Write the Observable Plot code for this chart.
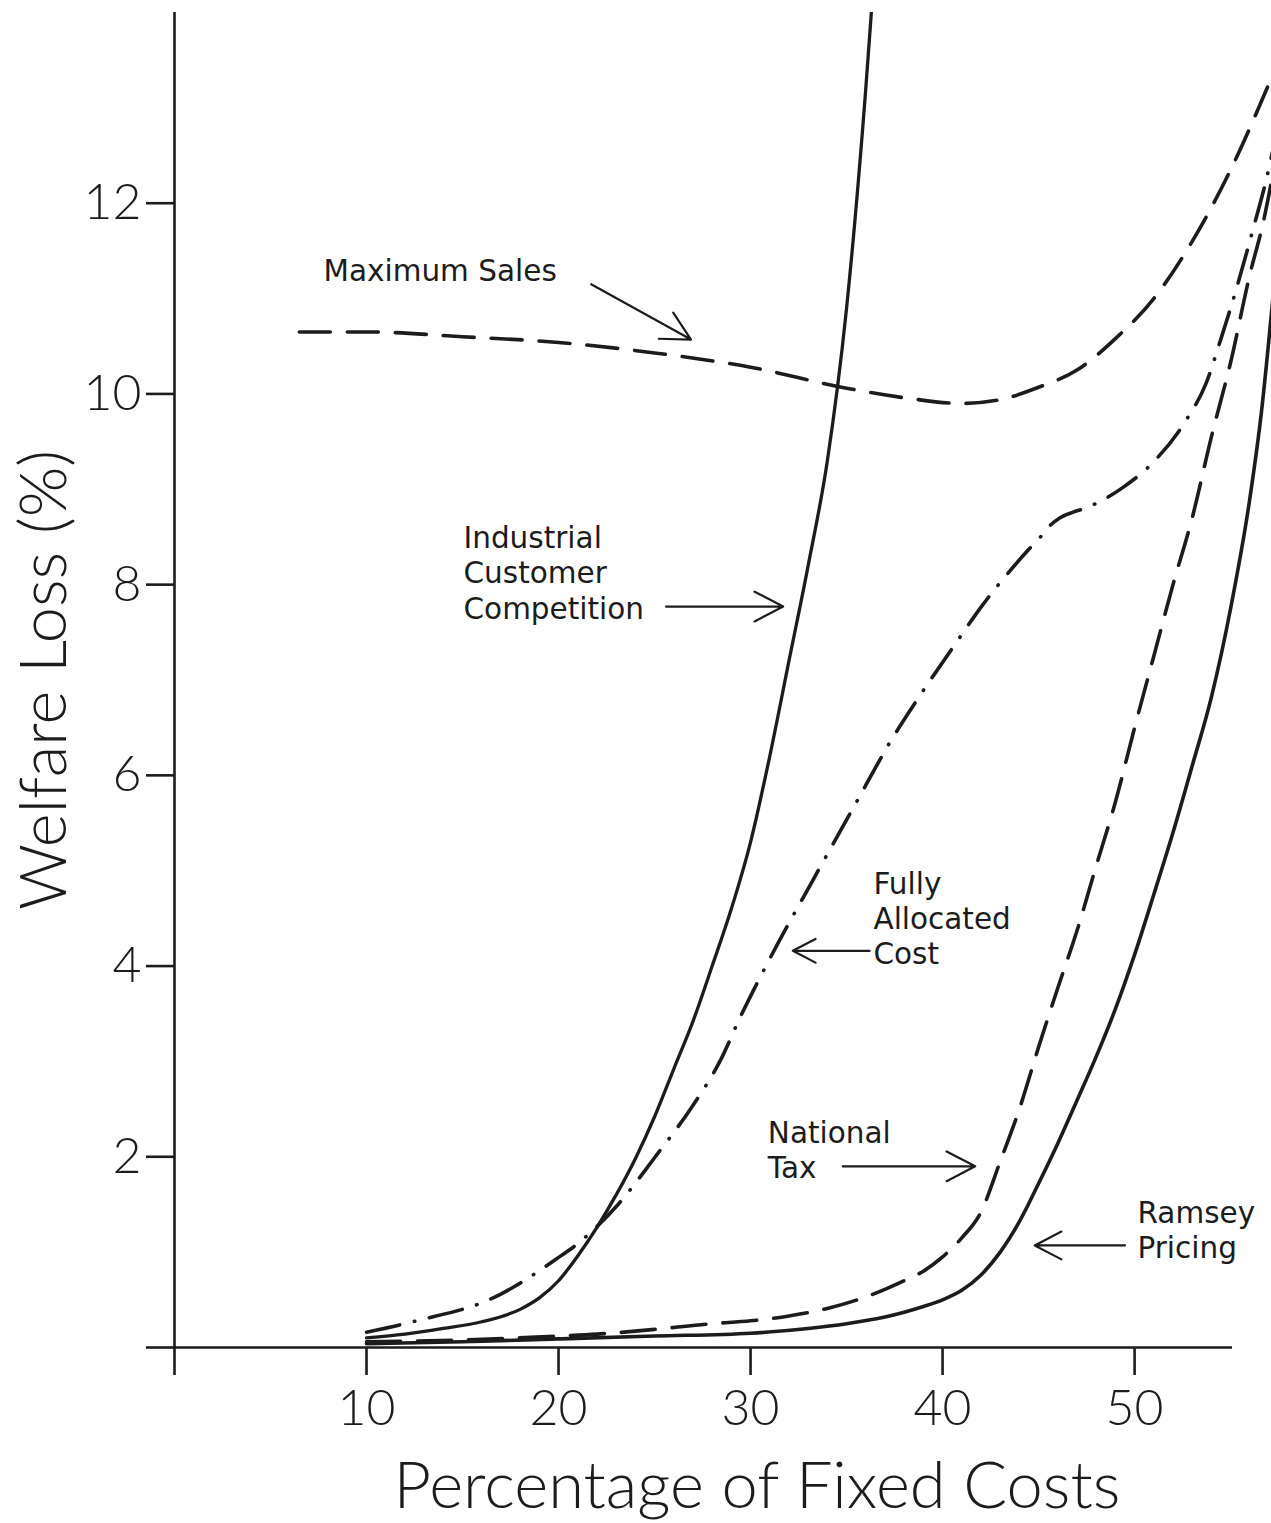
<!DOCTYPE html>
<html>
<head>
<meta charset="utf-8">
<script src="https://cdn.jsdelivr.net/npm/d3@7"></script>
<script src="https://cdn.jsdelivr.net/npm/@observablehq/plot@0.6"></script>
<style>
  html, body { margin: 0; padding: 0; background: #fff; }
  #chart svg { display: block; }
</style>
</head>
<body>
<div id="chart"></div>
<script>
// ---- Data ----
const xTicks = [0, 10, 20, 30, 40, 50];
const yTicks = [0, 2, 4, 6, 8, 10, 12];

const maxSalesX = [6.5, 10, 15, 20, 25, 30, 35, 38, 41, 43, 45, 47, 49, 51, 53, 55, 57.2];
const maxSalesY = [10.65, 10.65, 10.6, 10.54, 10.43, 10.28, 10.06, 9.96, 9.9, 9.94, 10.07, 10.25, 10.58, 11.0, 11.6, 12.35, 13.35];

const iccX = [10, 12, 14, 16, 18, 19, 20, 21, 22, 23, 24, 25, 26, 27, 28, 29, 30, 31, 32, 33, 34, 35, 36, 36.4];
const iccY = [0.1, 0.14, 0.2, 0.27, 0.4, 0.52, 0.7, 0.96, 1.26, 1.6, 1.98, 2.42, 2.92, 3.42, 4.0, 4.6, 5.3, 6.2, 7.2, 8.2, 9.3, 10.9, 13.2, 14.3];

const facX = [10, 12.6, 16.6, 19.9, 21, 23.1, 25, 26.9, 28.4, 29.5, 31.3, 33.3, 35.6, 37.3, 38.7, 40.5, 42.1, 43.7, 44.4, 45.1, 45.6, 46.1, 46.8, 47.4, 49.4, 51, 52.7, 53.7, 54.5, 55.4, 56.2, 56.8, 57.2];
const facY = [0.16, 0.28, 0.52, 0.93, 1.09, 1.5, 1.99, 2.51, 3.0, 3.48, 4.19, 4.92, 5.75, 6.36, 6.8, 7.33, 7.79, 8.19, 8.35, 8.5, 8.62, 8.7, 8.76, 8.8, 9.02, 9.29, 9.73, 10.1, 10.58, 11.17, 11.75, 12.2, 12.55];

const ntX = [10, 15, 20, 22, 25, 28, 30, 32, 34, 36, 38, 39, 40, 41, 42, 43, 44, 45, 46, 47, 48, 49, 50, 51, 52, 53, 54, 55, 56, 56.7, 57.2];
const ntY = [0.06, 0.08, 0.12, 0.14, 0.19, 0.25, 0.28, 0.33, 0.41, 0.53, 0.7, 0.8, 0.95, 1.15, 1.42, 1.95, 2.5, 3.15, 3.77, 4.37, 5.05, 5.72, 6.5, 7.25, 8.0, 8.7, 9.55, 10.33, 11.25, 11.8, 12.3];

const rpX = [10, 15, 20, 25, 30, 33, 35, 37, 38, 39, 40, 41, 42, 43, 44, 45, 46, 47, 48, 49, 50, 51, 52, 53, 54, 55, 56, 56.6, 57.2];
const rpY = [0.04, 0.06, 0.09, 0.12, 0.15, 0.2, 0.25, 0.32, 0.37, 0.43, 0.5, 0.6, 0.76, 1.0, 1.32, 1.72, 2.14, 2.59, 3.05, 3.55, 4.12, 4.75, 5.4, 6.1, 6.82, 7.75, 8.9, 9.8, 11.0];

// Annotation labels and arrows (data coordinates)
const labelText = ["Maximum Sales", "Industrial\nCustomer\nCompetition", "Fully\nAllocated\nCost", "National\nTax", "Ramsey\nPricing"];
const labelX = [7.76, 15.05, 36.4, 30.9, 50.15];
const labelY = [11.3, 8.13, 4.51, 2.08, 1.24];

const arrowX1 = [21.7, 25.6, 36.2, 34.8, 49.5];
const arrowY1 = [11.15, 7.77, 4.16, 1.9, 1.07];
const arrowX2 = [26.9, 31.7, 32.2, 41.7, 44.8];
const arrowY2 = [10.57, 7.77, 4.16, 1.9, 1.07];

// ---- Build tables ----
const toRows = (xs, ys) => xs.map((x, i) => ({x, y: ys[i]}));
const maxSales = toRows(maxSalesX, maxSalesY);
const icc = toRows(iccX, iccY);
const fac = toRows(facX, facY);
const nt = toRows(ntX, ntY);
const rp = toRows(rpX, rpY);
const labels = labelText.map((t, i) => ({t, x: labelX[i], y: labelY[i]}));
const arrows = arrowX1.map((x1, i) => ({x1, y1: arrowY1[i], x2: arrowX2[i], y2: arrowY2[i]}));

const ink = "#1c1c1c";
const font = "Lato, 'Open Sans', sans-serif";
const annoFont = "'DejaVu Sans', sans-serif";

const lineOpts = {x: "x", y: "y", stroke: ink, strokeWidth: 3.6, curve: "monotone-x", clip: true, strokeLinecap: "round"};

const plot = Plot.plot({
  width: 1271,
  height: 1523,
  marginLeft: 174,
  marginRight: 0,
  marginTop: 12,
  marginBottom: 176,
  style: {fontFamily: font, background: "#fff", color: ink},
  x: {domain: [0, 57.13], label: null},
  y: {domain: [0, 14], label: null},
  marks: [
    Plot.axisX({ticks: xTicks, tickSize: 28, tickPadding: 14, strokeWidth: 2.6,
      tickFormat: d => d === 0 ? "" : String(d), fontSize: 50, fontWeight: 300, label: null}),
    Plot.axisY({ticks: yTicks, tickSize: 28, tickPadding: 5, strokeWidth: 2.6,
      tickFormat: d => d === 0 ? "" : String(d), fontSize: 50, fontWeight: 300, label: null}),
    Plot.ruleY([0], {x1: 0, x2: 55.1, stroke: ink, strokeWidth: 2.6}),
    Plot.ruleX([0], {y1: 0, y2: 14, stroke: ink, strokeWidth: 2.6}),
    // Curves
    Plot.line(rp, lineOpts),
    Plot.line(nt, {...lineOpts, strokeDasharray: "34,17"}),
    Plot.line(icc, {...lineOpts, strokeWidth: 3.3}),
    Plot.line(fac, {...lineOpts, strokeDasharray: "34,15,0.5,15"}),
    Plot.line(maxSales, {...lineOpts, strokeDasharray: "31,17"}),
    // Annotations
    Plot.text(labels, {x: "x", y: "y", text: "t", textAnchor: "start", lineAnchor: "middle",
      lineHeight: 1.19, fontSize: 29.5, fontFamily: annoFont, fill: ink}),
    Plot.arrow(arrows, {x1: "x1", y1: "y1", x2: "x2", y2: "y2", stroke: ink, strokeWidth: 2.2,
      headLength: 22, headAngle: 55}),
    // Axis titles
    Plot.text(["Percentage of Fixed Costs"], {frameAnchor: "bottom", dx: 34, dy: 140,
      lineAnchor: "middle", textAnchor: "middle", fontSize: 65, fill: ink, fontWeight: 300}),
    Plot.text(["Welfare Loss (%)"], {frameAnchor: "left", dx: -129, rotate: -90,
      lineAnchor: "middle", textAnchor: "middle", fontSize: 65, fill: ink, fontWeight: 300})
  ]
});

document.getElementById("chart").appendChild(plot);
</script>
</body>
</html>
